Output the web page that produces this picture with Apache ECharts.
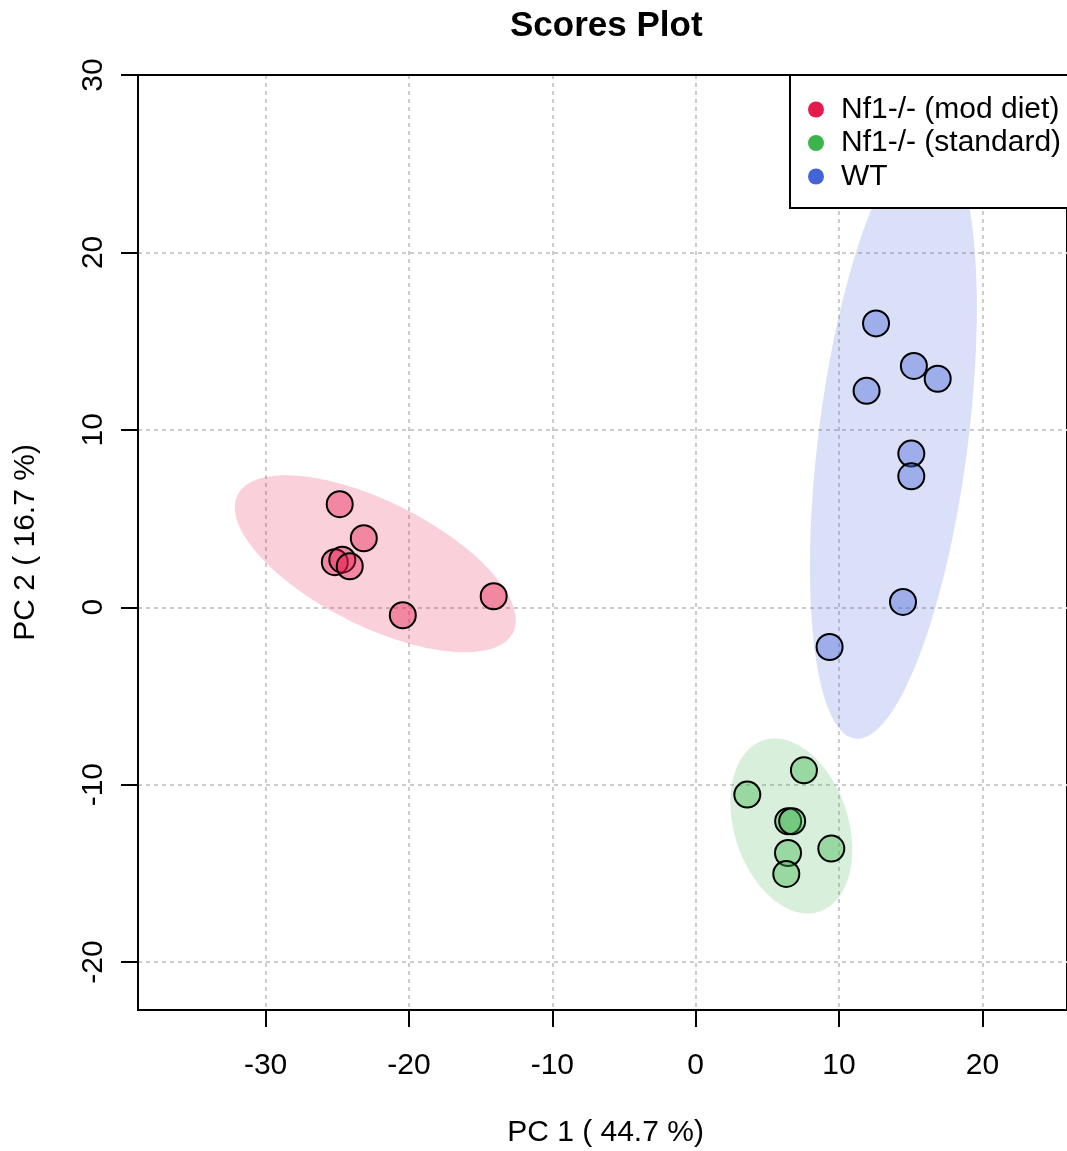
<!DOCTYPE html>
<html>
<head>
<meta charset="utf-8">
<script src="https://cdn.jsdelivr.net/npm/echarts@6/dist/echarts.min.js"></script>
<style>
html,body{margin:0;padding:0;background:#fff;}
#chart{width:1067px;height:1151px;}
</style>
</head>
<body>
<div id="chart"></div>
<script>
// ---- data ----
const groupNames = ['Nf1-/- (mod diet)', 'Nf1-/- (standard)', 'WT'];
const groupColors = ['#e6194b', '#3cb44b', '#4363d8'];

const modDietScores = [
  [-24.83, 5.81], [-23.15, 3.89], [-25.17, 2.54], [-24.65, 2.68],
  [-24.13, 2.31], [-20.43, -0.45], [-14.09, 0.62]
];
const standardScores = [
  [7.55, -9.19], [3.60, -10.56], [6.45, -12.06], [6.73, -12.06],
  [6.44, -13.85], [6.32, -15.03], [9.46, -13.60]
];
const wtScores = [
  [12.58, 16.0], [15.22, 13.6], [16.88, 12.88], [11.92, 12.2],
  [15.04, 8.66], [15.04, 7.38], [14.46, 0.3], [9.34, -2.24]
];

// confidence ellipses: center x, center y, sd x, sd y, correlation
const modDietEllipse = [-22.35, 2.45, 9.8, 4.99, -0.637];
const standardEllipse = [6.67, -12.33, 4.25, 4.93, -0.27];
const wtEllipse = [13.79, 9.57, 5.82, 16.98, 0.43];

const xTicks = [-30, -20, -10, 0, 10, 20];
const yTicks = [-20, -10, 0, 10, 20, 30];
const xRange = [-38.9, 25.9];
const yRange = [-22.7, 30];

// ---- chart ----
const FONT = '"Liberation Sans", Arial, Helvetica, sans-serif';
const FS = 30;
function rgba(hex, a) {
  const r = parseInt(hex.slice(1, 3), 16), g = parseInt(hex.slice(3, 5), 16), b = parseInt(hex.slice(5, 7), 16);
  return 'rgba(' + r + ',' + g + ',' + b + ',' + a + ')';
}

function ellipseRender(params, api) {
  const cx = api.value(0), cy = api.value(1), sx = api.value(2), sy = api.value(3), rho = api.value(4);
  const phi = Math.acos(rho);
  const pts = [];
  const n = 180;
  for (let i = 0; i < n; i++) {
    const t = 2 * Math.PI * i / n;
    pts.push(api.coord([cx + sx * Math.cos(t), cy + sy * Math.cos(t + phi)]));
  }
  return {
    type: 'polygon',
    shape: { points: pts },
    style: { fill: api.visual('color'), stroke: null }
  };
}

const ellipses = [modDietEllipse, standardEllipse, wtEllipse];
const scores = [modDietScores, standardScores, wtScores];

const series = [];
groupNames.forEach((name, i) => {
  series.push({
    type: 'custom',
    name: name,
    renderItem: ellipseRender,
    dimensions: ['cx', 'cy', 'sx', 'sy', 'rho'],
    encode: { x: 0, y: 1 },
    data: [ellipses[i]],
    itemStyle: { color: rgba(groupColors[i], 0.2) },
    silent: true,
    clip: true,
    z: 1
  });
});
groupNames.forEach((name, i) => {
  series.push({
    type: 'scatter',
    name: name,
    data: scores[i],
    symbol: 'circle',
    symbolSize: 26,
    itemStyle: { color: rgba(groupColors[i], 0.4), borderColor: '#000', borderWidth: 2, opacity: 1 },
    emphasis: { disabled: true },
    z: 3
  });
});

const chart = echarts.init(document.getElementById('chart'), null, { renderer: 'canvas' });
chart.setOption({
  animation: false,
  backgroundColor: '#fff',
  textStyle: { fontFamily: FONT },
  title: {
    text: 'Scores Plot',
    left: 510,
    top: 9,
    padding: 0,
    textStyle: { fontFamily: FONT, fontSize: 35, fontWeight: 'bold', color: '#000' }
  },
  grid: {
    left: 138, top: 75, right: 0, bottom: 141,
    outerBoundsMode: 'none',
    show: true, borderColor: '#000', borderWidth: 2, backgroundColor: 'transparent',
    containLabel: false
  },
  legend: {
    orient: 'vertical',
    left: 790,
    top: 75,
    padding: [19.5, 40, 16.5, 18],
    itemWidth: 40,
    itemHeight: 16,
    itemGap: 3.5,
    icon: 'circle',
    borderColor: '#000',
    borderWidth: 2,
    borderRadius: 0,
    backgroundColor: '#fff',
    selectedMode: false,
    z: 20,
    textStyle: { fontFamily: FONT, fontSize: FS, lineHeight: 30, color: '#000' },
    data: groupNames.map((n, i) => ({ name: n, icon: 'circle', itemStyle: { color: groupColors[i], borderWidth: 0, opacity: 1 } }))
  },
  xAxis: [{
    type: 'value',
    min: xRange[0], max: xRange[1],
    name: 'PC 1 ( 44.7 %)',
    nameLocation: 'middle',
    nameGap: 108,
    nameTextStyle: { fontFamily: FONT, fontSize: FS, color: '#000', padding: [0, 0, 0, 6] },
    axisLine: { show: true, onZero: false, lineStyle: { color: '#000', width: 2 } },
    axisTick: { show: true, length: 17, lineStyle: { color: '#000', width: 2 }, customValues: xTicks },
    axisLabel: { customValues: xTicks, fontFamily: FONT, fontSize: FS, color: '#000', margin: 41 },
    splitLine: { show: true, lineStyle: { color: '#cccccc', width: 2, type: [4, 4] } }
  }, {
    type: 'value',
    position: 'top',
    min: xRange[0], max: xRange[1],
    z: 10,
    axisLine: { show: true, onZero: false, lineStyle: { color: '#000', width: 2 } },
    axisTick: { show: false },
    axisLabel: { show: false },
    splitLine: { show: false }
  }],
  yAxis: {
    type: 'value',
    min: yRange[0], max: yRange[1],
    name: 'PC 2 ( 16.7 %)',
    nameLocation: 'middle',
    nameGap: 97,
    nameTextStyle: { fontFamily: FONT, fontSize: FS, color: '#000' },
    axisLine: { show: true, onZero: false, lineStyle: { color: '#000', width: 2 } },
    axisTick: { show: true, length: 17, lineStyle: { color: '#000', width: 2 }, customValues: yTicks },
    axisLabel: { customValues: yTicks, rotate: 90, fontFamily: FONT, fontSize: FS, color: '#000', margin: 29 },
    splitLine: { show: true, lineStyle: { color: '#cccccc', width: 2, type: [4, 4] } }
  },
  series: series
});
</script>
</body>
</html>
